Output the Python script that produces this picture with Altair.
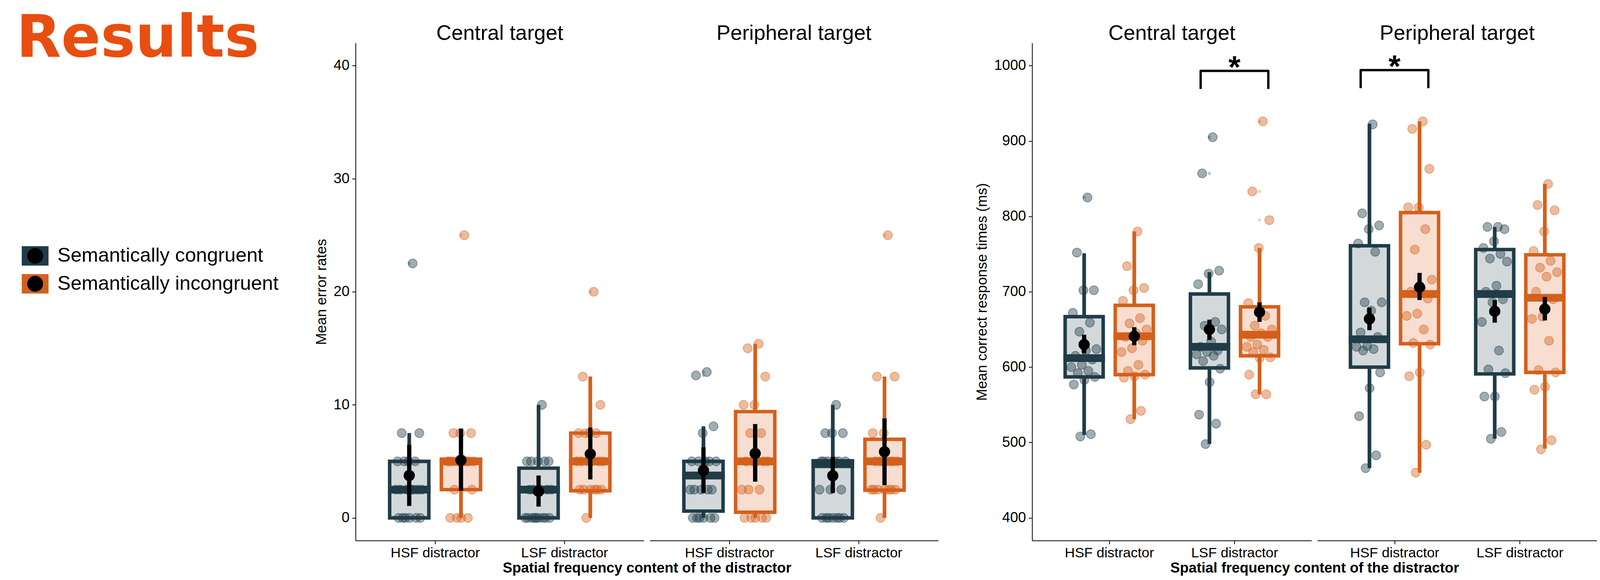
import json
import altair as alt
import pandas as pd

FONT = "Liberation Sans"
TITLE_FONT = "DejaVu Sans"

TARGETS = ["Central target", "Peripheral target"]
DISTRACTORS = ["HSF distractor", "LSF distractor"]
CONDITIONS = ["Semantically congruent", "Semantically incongruent"]

GROUP_TARGET = [t for t in TARGETS for d in DISTRACTORS for c in CONDITIONS]
GROUP_DISTRACTOR = [d for t in TARGETS for d in DISTRACTORS for c in CONDITIONS]
GROUP_CONDITION = [c for t in TARGETS for d in DISTRACTORS for c in CONDITIONS]

# ---------------- Mean error rates ----------------
ERR_WLO = [0, 0, 0, 0, 0, 0, 0, 0]
ERR_Q1 = [0, 2.5, 0, 2.4, 0.6, 0.5, 0, 2.45]
ERR_MED = [2.5, 5.0, 2.5, 5.0, 3.75, 5.0, 4.75, 5.0]
ERR_Q3 = [5.0, 5.0, 4.4, 7.5, 5.0, 9.4, 5.05, 6.95]
ERR_WHI = [7.5, 7.5, 10.0, 12.5, 8.1, 15.4, 10.0, 12.5]
ERR_MEAN = [3.75, 5.1, 2.35, 5.65, 4.2, 5.7, 3.73, 5.85]
ERR_CI_LO = [1.05, 2.4, 1.0, 3.4, 2.2, 3.2, 2.2, 2.9]
ERR_CI_HI = [6.45, 7.9, 3.75, 8.0, 6.25, 8.3, 5.4, 8.8]
ERR_POINTS = [
    [22.5, 7.5, 7.5, 5, 5, 5, 5, 2.5, 2.5, 2.5, 2.5, 2.5, 2.5, 2.5, 0, 0, 0, 0, 0, 0],
    [25, 7.5, 7.5, 7.5, 5, 5, 5, 5, 5, 5, 5, 5, 5, 5, 2.5, 2.5, 0, 0, 0, 0],
    [10, 5, 5, 5, 5, 5, 2.5, 2.5, 2.5, 2.5, 2.5, 0, 0, 0, 0, 0, 0, 0, 0, 0],
    [20, 12.5, 10, 7.5, 7.5, 7.5, 7.5, 5, 5, 5, 5, 5, 5, 2.5, 2.5, 2.5, 2.5, 2.5, 2.5, 0],
    [12.9, 12.6, 8.1, 7.5, 5, 5, 5, 5, 5, 2.5, 2.5, 2.5, 2.5, 2.5, 0, 0, 0, 0, 0, 0],
    [15.4, 15.0, 12.5, 10, 10, 7.5, 7.5, 5, 5, 5, 5, 5, 2.5, 2.5, 2.5, 0, 0, 0, 0, 0],
    [10, 7.5, 7.5, 7.5, 5, 5, 5, 5, 5, 5, 2.5, 2.5, 2.5, 0, 0, 0, 0, 0, 0, 0],
    [25, 12.5, 12.5, 7.5, 7.5, 5, 5, 5, 5, 5, 5, 5, 2.5, 2.5, 2.5, 2.5, 2.5, 2.5, 2.5, 0],
]
ERR_OUTLIERS = [[22.5], [25], [], [20], [12.9, 12.6], [], [], [25]]

# ---------------- Mean correct response times ----------------
RT_WLO = [510, 531, 498, 564, 466, 460, 505, 492]
RT_Q1 = [587, 590, 599, 615, 600, 631, 591, 593]
RT_MED = [612, 641, 627, 643, 637, 697, 697, 692]
RT_Q3 = [667, 682, 697, 680, 761, 805, 756, 749]
RT_WHI = [751, 780, 726, 758, 923, 926, 786, 843]
RT_MEAN = [630, 641, 650, 673, 664, 706, 674, 677]
RT_CI_LO = [618, 629, 636, 660, 649, 689, 659, 662]
RT_CI_HI = [643, 653, 663, 686, 679, 725, 689, 693]
RT_POINTS = [
    [825, 752, 702, 702, 672, 659, 647, 624, 622, 615, 610, 603, 600, 595, 592, 587, 583, 577, 511, 508],
    [780, 734, 705, 702, 688, 665, 658, 650, 645, 640, 635, 625, 620, 603, 595, 590, 588, 586, 542, 531],
    [905, 857, 728, 724, 710, 660, 655, 650, 634, 627, 622, 620, 617, 615, 608, 598, 580, 537, 525, 498],
    [926, 833, 795, 758, 685, 668, 655, 650, 645, 640, 640, 630, 627, 623, 620, 613, 612, 590, 564, 564],
    [922, 804, 788, 783, 764, 753, 686, 686, 675, 646, 640, 628, 627, 624, 622, 593, 572, 535, 483, 466],
    [926, 916, 863, 812, 812, 783, 756, 716, 704, 700, 691, 671, 668, 650, 632, 630, 593, 588, 497, 460],
    [786, 786, 783, 767, 758, 750, 744, 740, 708, 700, 690, 686, 660, 622, 597, 592, 561, 561, 514, 505],
    [843, 815, 808, 780, 754, 741, 732, 726, 720, 700, 690, 667, 664, 635, 596, 593, 574, 570, 503, 491],
]
RT_OUTLIERS = [[825], [], [905, 857], [926, 833, 795], [], [], [], []]

# significance brackets (right chart)
BRACKET_TARGET = ["Central target", "Peripheral target"]
BRACKET_DISTRACTOR = ["LSF distractor", "HSF distractor"]
BRACKET_TOP = [993, 994]
BRACKET_FOOT = [969, 970]
STAR_Y = [984, 985]
STAR_LABEL = ["*", "*"]

# ---------------- style ----------------
DARK = "#1F3C47"
ORANGE = "#D4601B"
FILL_DARK = "#D3D9DB"
FILL_ORANGE = "#F7DED1"
RESULT_COLOR = "#E84E0F"

COLOR_SCALE = alt.Scale(domain=CONDITIONS, range=[DARK, ORANGE])
STROKE_SCALE = alt.Scale(domain=CONDITIONS, range=[DARK, ORANGE])
FILL_SCALE = alt.Scale(domain=CONDITIONS, range=[FILL_DARK, FILL_ORANGE])

KEY = 69
DOT_R = 41 / 69
KEY_PATH = "M-1,-0.725L1,-0.725L1,0.725L-1,0.725Z"
CIRC_PATH = (f"M{DOT_R:.4f},0A{DOT_R:.4f},{DOT_R:.4f},0,1,1,{-DOT_R:.4f},0"
             f"A{DOT_R:.4f},{DOT_R:.4f},0,1,1,{DOT_R:.4f},0Z")
MEAN_D = 29

WL, WR = 743, 720
BWL, BWR = 101, 98
GAP = 15

LEG_X = -860
LEG_Y = 514
ROW_PAD = 12

LEG_A = alt.Legend(title=None, orient="none", legendX=LEG_X, legendY=LEG_Y, direction="vertical",
                   symbolType=KEY_PATH, symbolSize=KEY * KEY, symbolStrokeWidth=0,
                   labelFont=FONT, labelFontSize=51, labelColor="black", labelLimit=1200,
                   labelOffset=23, rowPadding=ROW_PAD, padding=0)
# black dots of the keys: same layout, drawn from the neighbouring panel
LEG_B = alt.Legend(title=None, orient="none", legendX=LEG_X - (WL + GAP), legendY=LEG_Y,
                   direction="vertical", symbolSize=KEY * KEY, symbolStrokeWidth=0,
                   labelFont=FONT, labelFontSize=51, labelOpacity=0, labelLimit=1200,
                   labelOffset=23, rowPadding=ROW_PAD, padding=0)

POS = ("indexof(" + json.dumps(DISTRACTORS) + ", datum.distractor) + 1 + "
       "(datum.condition == '" + CONDITIONS[0] + "' ? -0.2 : 0.2)")
LABEL_EXPR = json.dumps(DISTRACTORS) + "[datum.value - 1]"


def box_table(wlo, q1, med, q3, whi, mean, lo, hi):
    return pd.DataFrame({"target": GROUP_TARGET, "distractor": GROUP_DISTRACTOR,
                         "condition": GROUP_CONDITION, "wlo": wlo, "q1": q1, "med": med,
                         "q3": q3, "whi": whi, "mean": mean, "ci_lo": lo, "ci_hi": hi})


def point_table(groups):
    rows = []
    for i, vals in enumerate(groups):
        for v in vals:
            rows.append({"target": GROUP_TARGET[i], "distractor": GROUP_DISTRACTOR[i],
                         "condition": GROUP_CONDITION[i], "value": v})
    return pd.DataFrame(rows, columns=["target", "distractor", "condition", "value"])


ERR_BOX = box_table(ERR_WLO, ERR_Q1, ERR_MED, ERR_Q3, ERR_WHI, ERR_MEAN, ERR_CI_LO, ERR_CI_HI)
RT_BOX = box_table(RT_WLO, RT_Q1, RT_MED, RT_Q3, RT_WHI, RT_MEAN, RT_CI_LO, RT_CI_HI)
ERR_PTS = point_table(ERR_POINTS)
RT_PTS = point_table(RT_POINTS)
ERR_OUT = point_table(ERR_OUTLIERS)
RT_OUT = point_table(RT_OUTLIERS)

br_rows = []
for i in range(len(BRACKET_TARGET)):
    for corner, side, yv in [(0, -1, BRACKET_FOOT[i]), (1, -1, BRACKET_TOP[i]),
                             (2, 1, BRACKET_TOP[i]), (3, 1, BRACKET_FOOT[i])]:
        br_rows.append({"target": BRACKET_TARGET[i], "distractor": BRACKET_DISTRACTOR[i],
                        "corner": corner, "side": side, "yb": yv})
BRACKETS = pd.DataFrame(br_rows)
STARS = pd.DataFrame({"target": BRACKET_TARGET, "distractor": BRACKET_DISTRACTOR,
                      "ys": STAR_Y, "label": STAR_LABEL})


def x_axis(title=None, title_x=0):
    kw = dict(values=[1, 2], labelExpr=LABEL_EXPR, grid=False, domainColor="black",
              domainWidth=2, tickColor="black", tickWidth=2, tickSize=9, labelFont=FONT,
              labelFontSize=36, labelColor="black", labelPadding=6, labelAngle=0,
              labelOverlap=False, labelFlush=False, labelLimit=1000)
    if title:
        kw.update(title=title, titleX=title_x, titleY=82, titleFont=FONT, titleFontSize=37,
                  titleFontWeight="bold", titleColor="black", titleBaseline="alphabetic",
                  titleAlign="center", titleLimit=2000)
    else:
        kw.update(title=None)
    return alt.Axis(**kw)


def y_axis(values, title):
    return alt.Axis(values=values, title=title, format="d", grid=False, domainColor="black",
                    domainWidth=2, tickColor="black", tickWidth=2, tickSize=9, labelFont=FONT,
                    labelFontSize=37, labelColor="black", labelPadding=7, titleFont=FONT,
                    titleFontSize=37, titleFontWeight="normal", titleColor="black",
                    titlePadding=11, titleLimit=2000)


def panel(target, box, pts, outl, ydom, yvals, ytitle, show_y, xtitle, xtitle_x, bw, width,
          legend_a=False, legend_b=False, annotate=False):
    xs = alt.Scale(domain=[0.4, 2.6], nice=False, zero=False)
    ys = alt.Scale(domain=ydom, nice=False, zero=False)
    xax = x_axis(xtitle, xtitle_x)
    yax = y_axis(yvals, ytitle) if show_y else None

    def X(f):
        return alt.X(f, type="quantitative", scale=xs, axis=xax)

    def Y(f):
        return alt.Y(f, type="quantitative", scale=ys, axis=yax)

    flt = alt.datum.target == target
    base = alt.Chart(box).transform_filter(flt).transform_calculate(pos=POS)

    whisk = base.mark_rule(strokeWidth=9.5).encode(
        x=X("pos"), y=Y("wlo"), y2="whi",
        stroke=alt.Stroke("condition:N", scale=STROKE_SCALE, legend=None))
    boxes = base.mark_bar(size=bw, strokeWidth=9, opacity=1).encode(
        x=X("pos"), y=Y("q1"), y2="q3",
        fill=alt.Fill("condition:N", scale=FILL_SCALE, legend=None),
        stroke=alt.Stroke("condition:N", scale=STROKE_SCALE, legend=None))
    med = base.mark_tick(orient="horizontal", size=bw + 9, thickness=20, opacity=1).encode(
        x=X("pos"), y=Y("med"),
        color=alt.Color("condition:N", scale=COLOR_SCALE, legend=LEG_A if legend_a else None))
    points = (alt.Chart(pts).transform_filter(flt).transform_calculate(pos=POS)
              .transform_window(rn="row_number()", groupby=["target", "distractor", "condition"])
              .transform_calculate(xj="datum.pos + ((datum.rn * 0.618034) % 1 - 0.5) * 0.22")
              .mark_circle(size=529, opacity=1, fillOpacity=0.42, strokeOpacity=0.45, strokeWidth=2)
              .encode(x=X("xj"), y=Y("value"),
                      color=alt.Color("condition:N", scale=COLOR_SCALE, legend=None),
                      stroke=alt.Stroke("condition:N", scale=STROKE_SCALE, legend=None)))
    outs = (alt.Chart(outl).transform_filter(flt).transform_calculate(pos=POS)
            .mark_circle(size=64, opacity=0.3)
            .encode(x=X("pos"), y=Y("value"),
                    color=alt.Color("condition:N", scale=COLOR_SCALE, legend=None)))
    ci = base.mark_rule(strokeWidth=11, color="black").encode(x=X("pos"), y=Y("ci_lo"), y2="ci_hi")
    if legend_b:
        mean = base.transform_calculate(cond_b="datum.condition").mark_point(
            filled=True, size=(MEAN_D / DOT_R) ** 2, opacity=1, color="black").encode(
            x=X("pos"), y=Y("mean"),
            shape=alt.Shape("cond_b:N", scale=alt.Scale(range=[CIRC_PATH, CIRC_PATH]), legend=LEG_B))
    else:
        mean = base.mark_circle(size=MEAN_D ** 2, opacity=1, color="black").encode(
            x=X("pos"), y=Y("mean"))

    layers = [whisk, boxes, med, points, outs, ci, mean]
    if annotate:
        br = (alt.Chart(BRACKETS).transform_filter(flt)
              .transform_calculate(xb="indexof(" + json.dumps(DISTRACTORS) +
                                   ", datum.distractor) + 1 + datum.side * 0.27")
              .mark_line(strokeWidth=6, color="black", strokeJoin="round")
              .encode(x=X("xb"), y=Y("yb"), order="corner:Q", detail="target:N"))
        st = (alt.Chart(STARS).transform_filter(flt)
              .transform_calculate(xs="indexof(" + json.dumps(DISTRACTORS) + ", datum.distractor) + 1")
              .mark_text(font=FONT, fontSize=80, fontWeight="bold", baseline="alphabetic",
                         align="center", color="black")
              .encode(x=X("xs"), y=Y("ys"), text="label:N"))
        layers += [br, st]

    return alt.layer(*layers).properties(
        width=width, height=1282,
        title=alt.TitleParams(target, font=FONT, fontSize=54, fontWeight="normal", color="black",
                              anchor="middle", frame="group", offset=-46, baseline="alphabetic"))


err_c = panel(TARGETS[0], ERR_BOX, ERR_PTS, ERR_OUT, [-2, 42], [0, 10, 20, 30, 40],
              "Mean error rates", True, "Spatial frequency content of the distractor",
              (2 * WL + GAP) / 2, BWL, WL, legend_a=True)
err_p = panel(TARGETS[1], ERR_BOX, ERR_PTS, ERR_OUT, [-2, 42], [0, 10, 20, 30, 40],
              None, False, None, 0, BWL, WL, legend_b=True)
rt_c = panel(TARGETS[0], RT_BOX, RT_PTS, RT_OUT, [370, 1030], [400, 500, 600, 700, 800, 900, 1000],
             "Mean correct response times (ms)", True, "Spatial frequency content of the distractor",
             (2 * WR + GAP) / 2, BWR, WR, annotate=True)
rt_p = panel(TARGETS[1], RT_BOX, RT_PTS, RT_OUT, [370, 1030], [400, 500, 600, 700, 800, 900, 1000],
             None, False, None, 0, BWR, WR, annotate=True)

spacer = alt.Chart(pd.DataFrame({"a": [0]})).mark_point(opacity=0).encode(
    x=alt.X("a:Q", axis=None), y=alt.Y("a:Q", axis=None)).properties(width=212, height=1282)

chart = alt.hconcat(err_c, err_p, spacer, rt_c, rt_p, spacing=GAP, bounds="flush").resolve_legend(
    color="independent", shape="independent"
).properties(
    title=alt.TitleParams("Results", anchor="start", font=TITLE_FONT, fontSize=150,
                          fontWeight="bold", color=RESULT_COLOR, offset=-236, dx=-14,
                          baseline="alphabetic", frame="bounds"),
    padding={"left": 34, "top": 13, "right": 0, "bottom": 0},
    background="white",
).configure_view(strokeWidth=0)

chart.save("out.html", embed_options={"renderer": "svg", "actions": False})
